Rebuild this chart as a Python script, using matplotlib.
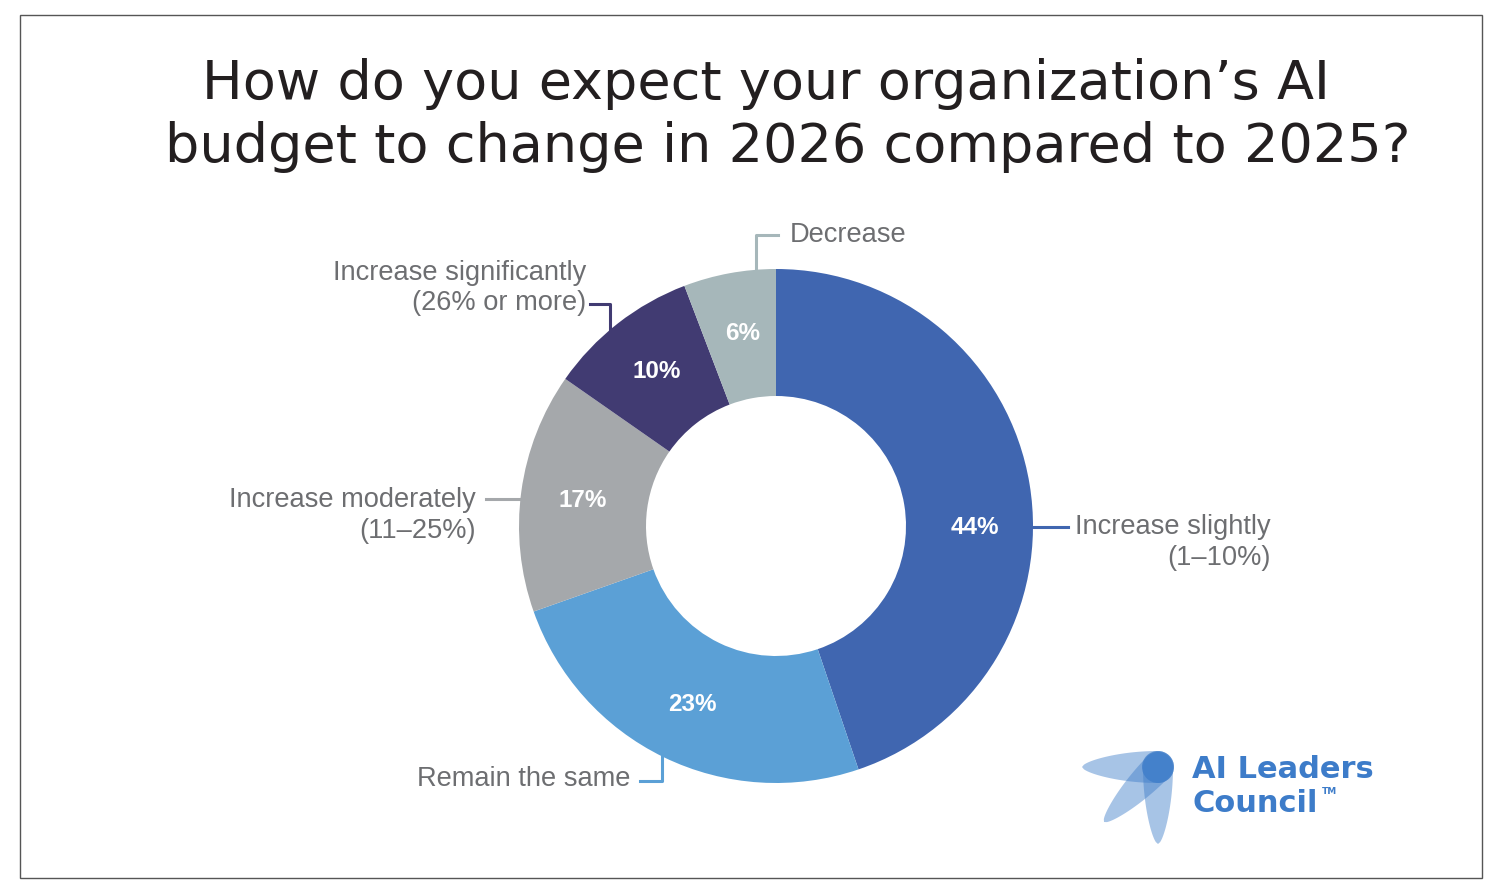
"""Donut chart: expected change in AI budget, 2026 vs 2025."""

import matplotlib

matplotlib.use("Agg")
import matplotlib.pyplot as plt
from matplotlib.patches import Circle, Polygon, Rectangle
import numpy as np

W, H = 1500, 894

categories = [
    "Increase slightly\n(1–10%)",
    "Remain the same",
    "Increase moderately\n(11–25%)",
    "Increase significantly\n(26% or more)",
    "Decrease",
]
# percentages as printed on the ring
shares = [44, 23, 17, 10, 6]
# arc sizes as drawn in the original artwork (they do not follow the print exactly)
arc_sizes = [44.8, 24.8, 15.1, 9.5, 5.8]
colors = ["#4066b0", "#5ba0d6", "#a5a8ab", "#413b72", "#a6b7ba"]

TITLE = ["How do you expect your organization’s AI",
         "budget to change in 2026 compared to 2025?"]
LABEL_GREY = "#6d6e71"
LOGO_BLUE = "#3d7cc9"


def Y(y):
    # flip from picture coordinates (top-left origin)
    return H - y


fig = plt.figure(figsize=(W / 100, H / 100), dpi=100)
ax = fig.add_axes([0, 0, 1, 1])

cx, cy, r_out, ring = 776, 526, 257, 127
wedges, _ = ax.pie(
    arc_sizes,
    colors=colors,
    startangle=90,
    counterclock=False,
    radius=r_out,
    center=(cx, Y(cy)),
    wedgeprops=dict(width=ring, edgecolor="none"),
)

ax.set_xlim(0, W)
ax.set_ylim(0, H)
ax.set_aspect("auto")
ax.axis("off")

# percentage labels, centred in each arc (the big arc's label sits level with the centre)
r_lab = 197
for i, (w, pct) in enumerate(zip(wedges, shares)):
    ang = np.deg2rad((w.theta1 + w.theta2) / 2) if i else 0.0
    ax.text(cx + r_lab * np.cos(ang) + 2, Y(cy) + r_lab * np.sin(ang) - 1, f"{pct}%",
            ha="center", va="center", color="white", fontsize=17.5, fontweight="bold",
            family="Liberation Sans")

# outer frame
ax.add_patch(Rectangle((20, Y(878)), 1462, 863, fill=False,
                       edgecolor="#555555", linewidth=1))

# title
ax.text(766, Y(84), TITLE[0], ha="center", va="center", fontsize=39,
        color="#231f20", family="DejaVu Sans")
ax.text(788, Y(147), TITLE[1], ha="center", va="center", fontsize=39,
        color="#231f20", family="DejaVu Sans")

lab = dict(color=LABEL_GREY, fontsize=19.6, family="Liberation Sans", va="center")

# leader lines
lw = 2.2
ax.plot([756, 756, 778], [Y(270), Y(235), Y(235)], color=colors[4], lw=lw)
ax.plot([590, 610, 610], [Y(304), Y(304), Y(330)], color=colors[3], lw=lw)
ax.plot([486, 520], [Y(499), Y(499)], color=colors[2], lw=lw)
ax.plot([1033, 1068], [Y(527), Y(527)], color=colors[0], lw=lw)
ax.plot([640, 662, 662], [Y(781), Y(781), Y(756)], color=colors[1], lw=lw)

# category labels
ax.text(790, Y(235), categories[4], ha="left", **lab)
sig = categories[3].split("\n")
ax.text(586, Y(273), sig[0], ha="right", **lab)
ax.text(586, Y(303), sig[1], ha="right", **lab)
mod = categories[2].split("\n")
ax.text(476, Y(500), mod[0], ha="right", **lab)
ax.text(476, Y(531), mod[1], ha="right", **lab)
sl = categories[0].split("\n")
ax.text(1271, Y(527), sl[0], ha="right", **lab)
ax.text(1271, Y(558), sl[1], ha="right", **lab)
ax.text(630, Y(779), categories[1], ha="right", **lab)


# logo: three translucent petals meeting at a dot
def petal(tip, base, half_width):
    tip = np.array(tip, float)
    base = np.array(base, float)
    d = base - tip
    length = np.hypot(*d)
    u = d / length
    n = np.array([-u[1], u[0]])
    t = np.linspace(0, 1, 40)
    w = half_width * np.sin(np.pi * t / 2) ** 0.6
    left = tip + np.outer(t * length, u) + np.outer(w, n)
    right = tip + np.outer(t * length, u) - np.outer(w, n)
    ang = np.linspace(0, np.pi, 30)
    cap = base + np.outer(half_width * np.cos(ang), n) + np.outer(half_width * np.sin(ang), u)
    pts = np.vstack([left, cap, right[::-1]])
    pts[:, 1] = H - pts[:, 1]
    return Polygon(pts, closed=True, facecolor=LOGO_BLUE, alpha=0.45, edgecolor="none")


ax.add_patch(petal((1082, 767), (1158, 767), 16))
ax.add_patch(petal((1104, 822), (1158, 767), 15))
ax.add_patch(petal((1158, 844), (1158, 767), 15))
ax.add_patch(Circle((1158, Y(767)), 16, facecolor=LOGO_BLUE, alpha=0.75, edgecolor="none"))

logo = dict(color=LOGO_BLUE, fontsize=22, fontweight="bold", family="DejaVu Sans",
            ha="left", va="center")
ax.text(1192, Y(769), "AI Leaders", **logo)
ax.text(1192, Y(804), "Council", **logo)
ax.text(1322, Y(792), "TM", color=LOGO_BLUE, fontsize=6.5, fontweight="bold",
        family="DejaVu Sans", ha="left", va="center")

fig.savefig("out.png", dpi=100)
